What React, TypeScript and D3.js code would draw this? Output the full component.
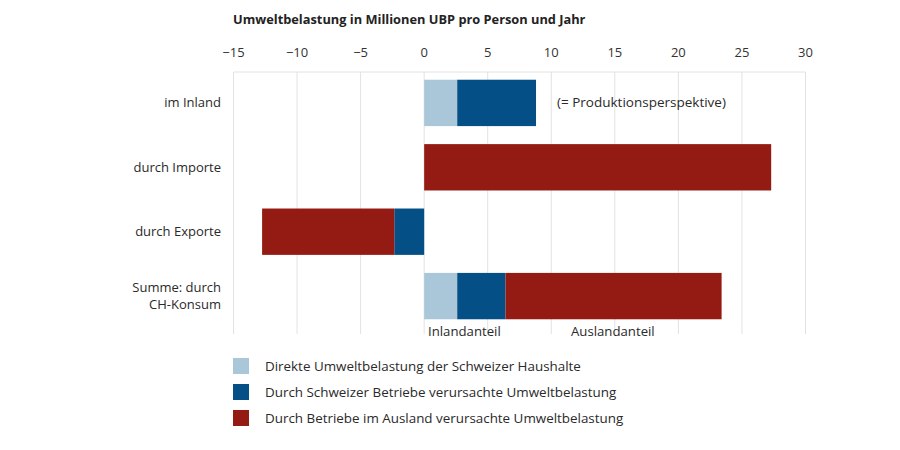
import React from "react";
import * as d3 from "d3";

const categories = ["im Inland", "durch Importe", "durch Exporte", "Summe: durch\nCH-Konsum"];
const seriesNames = [
  "Direkte Umweltbelastung der Schweizer Haushalte",
  "Durch Schweizer Betriebe verursachte Umweltbelastung",
  "Durch Betriebe im Ausland verursachte Umweltbelastung",
];
const directValues = [2.6, 0, 0, 2.6];
const swissValues = [6.2, 0, -2.35, 3.8];
const foreignValues = [0, 27.3, -10.4, 17.0];
const xTicks = [-15, -10, -5, 0, 5, 10, 15, 20, 25, 30];
const colors = ["#a9c7d9", "#044f85", "#931b13"];

const W = 900, H = 450;
const FONT = "'Open Sans', sans-serif";

export default function App() {
  const x = d3.scaleLinear().domain([-15, 30]).range([233.5, 805.5]);
  const y = d3.scaleBand<string>().domain(categories).range([72, 327]).paddingInner(0.28).paddingOuter(0.12);
  const series = [directValues, swissValues, foreignValues];

  const segs: { key: string; x0: number; x1: number; cat: string; color: string }[] = [];
  categories.forEach((c, i) => {
    let pos = 0, neg = 0;
    series.forEach((vals, s) => {
      const v = vals[i];
      if (v === 0) return;
      if (v > 0) {
        segs.push({ key: `${i}-${s}`, x0: pos, x1: pos + v, cat: c, color: colors[s] });
        pos += v;
      } else {
        segs.push({ key: `${i}-${s}`, x0: neg + v, x1: neg, cat: c, color: colors[s] });
        neg += v;
      }
    });
  });

  const fmt = (t: number) => (t < 0 ? "\u2212" + Math.abs(t) : String(t));

  return (
    <svg width={W} height={H} style={{ display: "block", position: "absolute", left: 0, top: 0, background: "#fff" }} fontFamily={FONT}>
      <text x={233} y={24} fontSize={12.8} fontWeight={700} fill="#222">
        Umweltbelastung in Millionen UBP pro Person und Jahr
      </text>
      {xTicks.map((t) => (
        <g key={t}>
          <line x1={x(t)} x2={x(t)} y1={72} y2={334} stroke="#e2e2e2" strokeWidth={1} />
          <text x={x(t)} y={57} fontSize={13} fill="#333" textAnchor="middle">{fmt(t)}</text>
        </g>
      ))}
      <line x1={x(-15)} x2={x(30)} y1={72} y2={72} stroke="#e2e2e2" strokeWidth={1} />
      {segs.map((s) => (
        <rect key={s.key} x={x(s.x0)} width={x(s.x1) - x(s.x0)} y={y(s.cat)} height={y.bandwidth()} fill={s.color} />
      ))}
      {categories.map((c) => {
        const lines = c.split("\n");
        const cy = (y(c) as number) + y.bandwidth() / 2;
        return (
          <text key={c} x={221} textAnchor="end" fontSize={13} fill="#2a2a2a">
            {lines.map((l, j) => (
              <tspan key={j} x={221} y={cy + 4.5 + (j - (lines.length - 1) / 2) * 17}>{l}</tspan>
            ))}
          </text>
        );
      })}
      <text x={557} y={(y(categories[0]) as number) + y.bandwidth() / 2 + 4.5} fontSize={13.5} fill="#2a2a2a">
        (= Produktionsperspektive)
      </text>
      <text x={428} y={336} fontSize={13.2} fill="#2a2a2a">Inlandanteil</text>
      <text x={571} y={336} fontSize={13.2} fill="#2a2a2a">Auslandanteil</text>
      {seriesNames.map((n, i) => (
        <g key={n}>
          <rect x={233} y={358 + i * 26} width={16} height={16} fill={colors[i]} />
          <text x={265} y={371 + i * 26} fontSize={13.4} fill="#2a2a2a">{n}</text>
        </g>
      ))}
    </svg>
  );
}
